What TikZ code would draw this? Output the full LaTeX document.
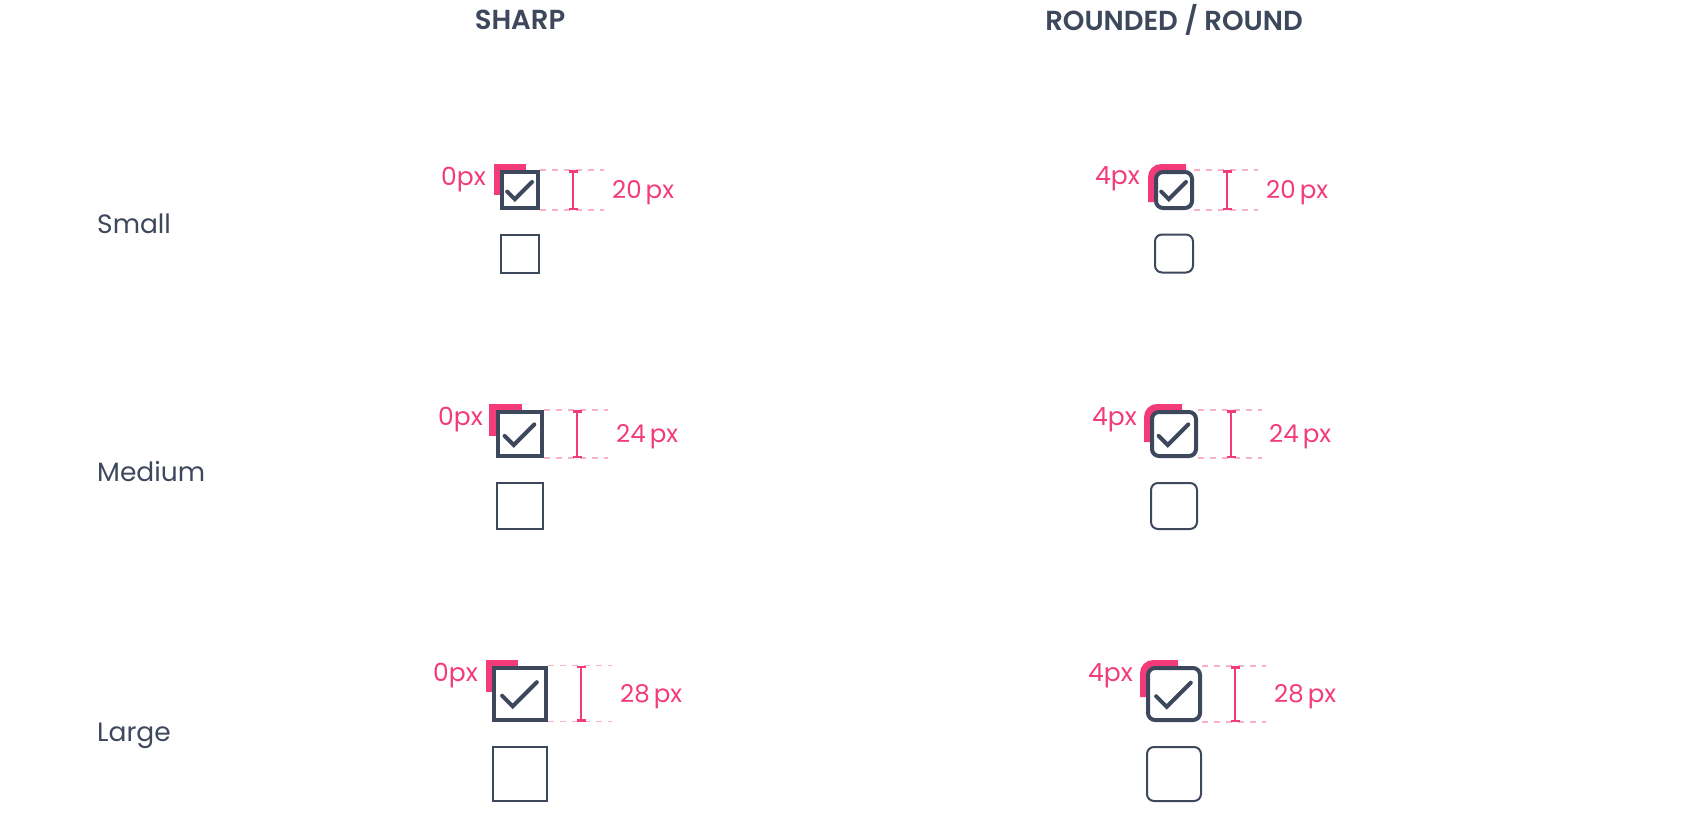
\documentclass[tikz,border=0pt]{standalone}
\usepackage{fontspec}
\setmainfont{Poppins}
\newfontfamily\headfont{Poppins SemiBold}
\usepackage{tikz}
\usetikzlibrary{arrows.meta}
\definecolor{slate}{HTML}{3D485C}
\definecolor{accent}{HTML}{F23B78}
\definecolor{guideline}{HTML}{F8AFC7}
\tikzset{
  box/.style={draw=slate, fill=white, line width=4, inner sep=0},
  thin box/.style={line width=2},
  round box/.style={rounded corners=7},
  tick/.style={draw=slate, line width=4, line cap=round, line join=miter},
  marker/.style={fill=accent},
  guide/.style={draw=guideline, line width=1.8, dash pattern=on 6 off 6},
  dim/.style={draw=accent, line width=2.5, {Bar[width=9]}-{Bar[width=9]}},
  radius label/.style={text=accent, font=\fontsize{25}{30}\selectfont, inner sep=0},
  size label/.style={text=accent, font=\fontsize{24.5}{29}\selectfont, inner sep=0},
  row label/.style={text=slate, font=\fontsize{26.5}{31}\selectfont, inner sep=0, anchor=west},
  column label/.style={text=slate, font=\fontsize{27.5}{32}\headfont, inner sep=0}
}

\begin{document}
\begin{tikzpicture}[x=1pt, y=-1pt]
  \useasboundingbox (0,0) rectangle (1692,836);
  % Headings
  \node[column label] (hsharp) at (520,20) {SHARP};
  \node[column label] (hround) at (1174,20) {ROUNDED / ROUND};
  \node[row label] (rsmall) at (97,224) {Small};
  \node[row label] (rmedium) at (97,472) {Medium};
  \node[row label] (rlarge) at (97,736) {Large};
  % Small, sharp
  \fill[marker] (494,164) rectangle ++(32,31);
  \node[box, minimum size=36] (ss) at (520,190) {};
  \draw[tick] ([shift={(-12.8,1.6)}]ss.center) -- ++(7.6,7.6) -- ++(17.2,-17.2);
  \draw[guide] (ss.north east) -- ++(64,0);
  \draw[guide] (ss.south east) -- ++(64,0);
  \draw[dim] ([shift={(33,0)}]ss.north east) -- ([shift={(33,0)}]ss.south east);
  \node[radius label, anchor=east] (ssr) at (486,180) {0px};
  \node[size label, anchor=west] (sss) at (612,193) {20\,px};
  \node[box, thin box, minimum size=38] (ssu) at (520,253.5) {};
  % Small, rounded
  \fill[marker] (1148,202) [rounded corners=13] -- (1148,164) [sharp corners] -- (1186,164) -- (1186,202) -- cycle;
  \node[box, round box, minimum size=36] (rs) at (1174,190) {};
  \draw[tick] ([shift={(-12.8,1.6)}]rs.center) -- ++(7.6,7.6) -- ++(17.2,-17.2);
  \draw[guide] (rs.north east) -- ++(64,0);
  \draw[guide] (rs.south east) -- ++(64,0);
  \draw[dim] ([shift={(33,0)}]rs.north east) -- ([shift={(33,0)}]rs.south east);
  \node[radius label, anchor=east] (rsr) at (1140,179) {4px};
  \node[size label, anchor=west] (rss) at (1266,193) {20\,px};
  \node[box, thin box, round box, minimum size=38] (rsu) at (1174,253.5) {};
  % Medium, sharp
  \fill[marker] (489,404) rectangle ++(33,32);
  \node[box, minimum size=44] (sm) at (520,434) {};
  \draw[tick] ([shift={(-15.4,1.9)}]sm.center) -- ++(9.1,9.1) -- ++(20.6,-20.6);
  \draw[guide] (sm.north east) -- ++(64,0);
  \draw[guide] (sm.south east) -- ++(64,0);
  \draw[dim] ([shift={(33,0)}]sm.north east) -- ([shift={(33,0)}]sm.south east);
  \node[radius label, anchor=east] (smr) at (483,420) {0px};
  \node[size label, anchor=west] (sms) at (616,437) {24\,px};
  \node[box, thin box, minimum size=46] (smu) at (520,506) {};
  % Medium, rounded
  \fill[marker] (1144,442) [rounded corners=13] -- (1144,404) [sharp corners] -- (1182,404) -- (1182,442) -- cycle;
  \node[box, round box, minimum size=44] (rm) at (1174,434) {};
  \draw[tick] ([shift={(-15.4,1.9)}]rm.center) -- ++(9.1,9.1) -- ++(20.6,-20.6);
  \draw[guide] (rm.north east) -- ++(64,0);
  \draw[guide] (rm.south east) -- ++(64,0);
  \draw[dim] ([shift={(33,0)}]rm.north east) -- ([shift={(33,0)}]rm.south east);
  \node[radius label, anchor=east] (rmr) at (1137,420) {4px};
  \node[size label, anchor=west] (rms) at (1269,437) {24\,px};
  \node[box, thin box, round box, minimum size=46] (rmu) at (1174,506) {};
  % Large, sharp
  \fill[marker] (486,660) rectangle ++(32,32);
  \node[box, minimum size=52] (sl) at (520,693.5) {};
  \draw[tick] ([shift={(-17.9,2.2)}]sl.center) -- ++(10.6,10.6) -- ++(24.1,-24.1);
  \draw[guide] (sl.north east) -- ++(64,0);
  \draw[guide] (sl.south east) -- ++(64,0);
  \draw[dim] ([shift={(33,0)}]sl.north east) -- ([shift={(33,0)}]sl.south east);
  \node[radius label, anchor=east] (slr) at (478,676) {0px};
  \node[size label, anchor=west] (sls) at (620,697) {28\,px};
  \node[box, thin box, minimum size=54] (slu) at (520,774) {};
  % Large, rounded
  \fill[marker] (1140,697) [rounded corners=13] -- (1140,660) [sharp corners] -- (1178,660) -- (1178,697) -- cycle;
  \node[box, round box, minimum size=52] (rl) at (1174,694) {};
  \draw[tick] ([shift={(-17.9,2.2)}]rl.center) -- ++(10.6,10.6) -- ++(24.1,-24.1);
  \draw[guide] (rl.north east) -- ++(64,0);
  \draw[guide] (rl.south east) -- ++(64,0);
  \draw[dim] ([shift={(33,0)}]rl.north east) -- ([shift={(33,0)}]rl.south east);
  \node[radius label, anchor=east] (rlr) at (1133,676) {4px};
  \node[size label, anchor=west] (rls) at (1274,697) {28\,px};
  \node[box, thin box, round box, minimum size=54] (rlu) at (1174,774) {};
\end{tikzpicture}
\end{document}
